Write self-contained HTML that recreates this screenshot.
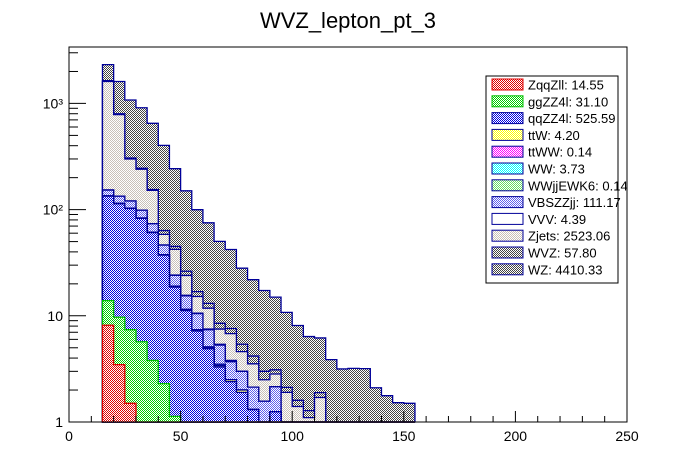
<!DOCTYPE html>
<html><head><meta charset="utf-8"><style>
html,body{margin:0;padding:0;background:#fff;}
svg{display:block;font-family:"Liberation Sans",Arial,sans-serif;}
</style></head><body>
<svg id="chart" width="696" height="472" viewBox="0 0 696 472" xmlns="http://www.w3.org/2000/svg">
<defs>
<pattern id="p-red" width="2" height="2" patternUnits="userSpaceOnUse"><rect width="2" height="2" fill="#fff"/><rect width="1" height="1" fill="#e00000"/><rect x="1" y="1" width="1" height="1" fill="#e00000"/></pattern>
<pattern id="p-green" width="2" height="2" patternUnits="userSpaceOnUse"><rect width="2" height="2" fill="#fff"/><rect width="1" height="1" fill="#00d000"/><rect x="1" y="1" width="1" height="1" fill="#00d000"/></pattern>
<pattern id="p-blue" width="2" height="2" patternUnits="userSpaceOnUse"><rect width="2" height="2" fill="#fff"/><rect width="1" height="1" fill="#0000e0"/><rect x="1" y="1" width="1" height="1" fill="#0000e0"/></pattern>
<pattern id="p-yellow" width="2" height="2" patternUnits="userSpaceOnUse"><rect width="2" height="2" fill="#fff"/><rect width="1" height="1" fill="#ffff00"/><rect x="1" y="1" width="1" height="1" fill="#ffff00"/></pattern>
<pattern id="p-magenta" width="2" height="2" patternUnits="userSpaceOnUse"><rect width="2" height="2" fill="#fff"/><rect width="1" height="1" fill="#ff00ff"/><rect x="1" y="1" width="1" height="1" fill="#ff00ff"/></pattern>
<pattern id="p-cyan" width="2" height="2" patternUnits="userSpaceOnUse"><rect width="2" height="2" fill="#fff"/><rect width="1" height="1" fill="#00ffff"/><rect x="1" y="1" width="1" height="1" fill="#00ffff"/></pattern>
<pattern id="p-lgreen" width="2" height="2" patternUnits="userSpaceOnUse"><rect width="2" height="2" fill="#fff"/><rect width="1" height="1" fill="#66dd66"/><rect x="1" y="1" width="1" height="1" fill="#66dd66"/></pattern>
<pattern id="p-lblue" width="2" height="2" patternUnits="userSpaceOnUse"><rect width="2" height="2" fill="#fff"/><rect width="1" height="1" fill="#6060ee"/><rect x="1" y="1" width="1" height="1" fill="#6060ee"/></pattern>
<pattern id="p-white" width="2" height="2" patternUnits="userSpaceOnUse"><rect width="2" height="2" fill="#fff"/></pattern>
<pattern id="p-beige" width="2" height="2" patternUnits="userSpaceOnUse"><rect width="2" height="2" fill="#fff"/><rect width="1" height="1" fill="#c8c0b8"/><rect x="1" y="1" width="1" height="1" fill="#c8c0b8"/></pattern>
<pattern id="p-gray" width="2" height="2" patternUnits="userSpaceOnUse"><rect width="2" height="2" fill="#fff"/><rect width="1" height="1" fill="#444"/><rect x="1" y="1" width="1" height="1" fill="#444"/></pattern>
</defs>
<text x="348" y="28" font-size="22" text-anchor="middle" fill="#000">WVZ_lepton_pt_3</text>
<g id="plot"></g>
<rect x="69" y="47" width="558" height="375" fill="none" stroke="#000" stroke-width="1"/>
<g id="axes"></g>
<g id="legend"></g>
</svg>
<script>
// bin lower edges (GeV), bin width 5
const binLow = [15,20,25,30,35,40,45,50,55,60,65,70,75,80,85,90,95,100,105,110,115,120,125,130,135,140,145,150];
// per-process bin contents (stack order bottom -> top)
const ZqqZll  = [8.15,3.47,1.5,0,0,0,0,0,0,0,0,0,0,0,0,0,0,0,0,0,0,0,0,0,0,0,0,0];
const ggZZ4l  = [5.75,6.23,5.9,5.7,3.8,2.3,1.13,0,0,0,0,0,0,0,0,0,0,0,0,0,0,0,0,0,0,0,0,0];
const qqZZ4l  = [120,104,95,77,57,35,17.5,11.2,7.2,4.9,3.3,2.4,1.9,1.31,0.9,1.25,0.5,0.3,0.2,0.2,0,0,0,0,0,0,0,0];
const ttW     = [0.3,0.4,0.4,0.3,0.3,0.2,0.2,0.2,0.1,0.1,0.1,0.1,0.1,0,0,0,0,0,0,0,0,0,0,0,0,0,0,0];
const ttWW    = [0,0,0,0,0,0,0,0,0,0,0,0,0,0,0,0,0,0,0,0,0,0,0,0,0,0,0,0];
const WW      = [0.4,0.4,0.3,0.3,0.2,0.2,0.2,0.1,0.1,0.1,0.1,0,0,0,0,0,0,0,0,0,0,0,0,0,0,0,0,0];
const WWjjEWK6= [0,0,0,0,0,0,0,0,0,0,0,0,0,0,0,0,0,0,0,0,0,0,0,0,0,0,0,0];
const VBSZZjj = [18.3,19.3,17.4,15.4,12.3,8.6,5,3.9,3.1,2.3,1.8,1.2,1.0,0.82,0.67,0.9,0.4,0,0,0,0,0,0,0,0,0,0,0];
const VVV     = [0.3,0.3,0.3,0.3,0.2,0.2,0.2,0.2,0.1,0.1,0.1,0.1,0,0,0,0,0,0,0,0,0,0,0,0,0,0,0,0];
const Zjets   = [1457,651,179,141,78,12,18,8.4,4.6,4.3,2.1,3,1.6,1.4,0.93,0.68,1.0,1.1,0.9,1.5,0,0,0,0.02,0,0,0,0];
const WVZ     = [30,15,6,5,3,5,2.8,2.3,1.7,1.3,1.0,0.8,0.8,0.65,0.5,0.27,0.22,0.2,0.18,0.19,0,0,0,0,0,0,0,0];
const WZ      = [680,810,772,665,495,339,198,124,83,62,41.7,34.5,22.7,17.7,14.3,11.9,8.65,6.5,5.1,4.3,3.87,3.16,3.2,3.16,2.1,1.77,1.52,1.5];
// legend labels
const legendLabels = ["ZqqZll: 14.55","ggZZ4l: 31.10","qqZZ4l: 525.59","ttW: 4.20","ttWW: 0.14","WW: 3.73","WWjjEWK6: 0.14","VBSZZjj: 111.17","VVV: 4.39","Zjets: 2523.06","WVZ: 57.80","WZ: 4410.33"];
// axis ticks
const xTicks = [0,50,100,150,200,250];
const yTicks = [1,10,100,1000];
const yTickLabels = ["1","10","10²","10³"];

const NS="http://www.w3.org/2000/svg";
const X0=69,X1=627,Y0=422,Y1=47;
const xMin=0,xMax=250,yMin=1,yMax=3400, binW=5;
function xs(v){return X0+(v-xMin)/(xMax-xMin)*(X1-X0);}
function ys(v){v=Math.max(v,yMin);return Y0-(Math.log10(v)-Math.log10(yMin))/(Math.log10(yMax)-Math.log10(yMin))*(Y0-Y1);}
function mk(t,a,p){const e=document.createElementNS(NS,t);for(const k in a)e.setAttribute(k,a[k]);(p||document.getElementById('plot')).appendChild(e);return e;}

const layers=[
 {n:"zqqzll",d:ZqqZll,f:"url(#p-red)",s:"#e00000"},
 {n:"ggzz4l",d:ggZZ4l,f:"url(#p-green)",s:"#00c000"},
 {n:"qqzz4l",d:qqZZ4l,f:"url(#p-blue)",s:"#000099"},
 {n:"ttw",d:ttW,f:"url(#p-yellow)",s:"#000099"},
 {n:"ttww",d:ttWW,f:"url(#p-magenta)",s:"#000099"},
 {n:"ww",d:WW,f:"url(#p-cyan)",s:"#000099"},
 {n:"wwjjewk6",d:WWjjEWK6,f:"url(#p-lgreen)",s:"#000099"},
 {n:"vbszzjj",d:VBSZZjj,f:"url(#p-lblue)",s:"#000099"},
 {n:"vvv",d:VVV,f:"url(#p-white)",s:"#000099"},
 {n:"zjets",d:Zjets,f:"url(#p-beige)",s:"#000099"},
 {n:"wvz",d:WVZ,f:"url(#p-gray)",s:"#000099"},
 {n:"wz",d:WZ,f:"url(#p-gray)",s:"#000099"}
];
// cumulative sums
const cum=[];let run=binLow.map(()=>0);
layers.forEach(L=>{run=run.map((v,i)=>v+L.d[i]);cum.push(run.slice());});
// draw from top of stack to bottom
for(let li=layers.length-1;li>=0;li--){
  const c=cum[li];const L=layers[li];
  let dd="M"+xs(binLow[0])+","+Y0;
  binLow.forEach((b,i)=>{const y=ys(c[i]);dd+=" L"+xs(b)+","+y+" L"+xs(b+binW)+","+y;});
  dd+=" L"+xs(binLow[binLow.length-1]+binW)+","+Y0+" Z";
  const p=mk('path',{d:dd,fill:L.f,stroke:L.s,'stroke-width':1.3});
  
  
}
// axes
const ax=document.getElementById('axes');
xTicks.forEach(t=>{
  const x=xs(t);
  const l=mk('line',{x1:x,y1:Y0,x2:x,y2:Y0-11,stroke:'#000'},ax);
  
  
  const tx=mk('text',{x:x,y:441,'font-size':14,'text-anchor':'middle'},ax);tx.textContent=t;
  
  
});
for(let v=10;v<250;v+=10){if(v%50===0)continue;const x=xs(v);mk('line',{x1:x,y1:Y0,x2:x,y2:Y0-6,stroke:'#000'},ax);}
yTicks.forEach((t,i)=>{
  const y=ys(t);
  const l=mk('line',{x1:X0,y1:y,x2:X0+17,y2:y,stroke:'#000'},ax);
  
  
  const tx=mk('text',{x:X0-6,y:y+5,'font-size':14,'text-anchor':'end'},ax);tx.textContent=yTickLabels[i];
  
  
});
for(let d=1;d<=1000;d*=10){for(let k=2;k<=9;k++){const v=d*k;if(v>yMax)break;const y=ys(v);mk('line',{x1:X0,y1:y,x2:X0+9,y2:y,stroke:'#000'},ax);}}
// legend
const lg=document.getElementById('legend');
const box=mk('rect',{x:486,y:76,width:132,height:207,fill:'#fff',stroke:'#000'},lg);


legendLabels.forEach((lab,i)=>{
  const y=79+i*16.8;
  const r=mk('rect',{x:492,y:y,width:31,height:11,fill:layers[i].f,stroke:layers[i].s,'stroke-width':1},lg);
  
  
  const t=mk('text',{x:528,y:y+10.5,'font-size':13},lg);t.textContent=lab;
  
  
});
</script>
</body></html>
